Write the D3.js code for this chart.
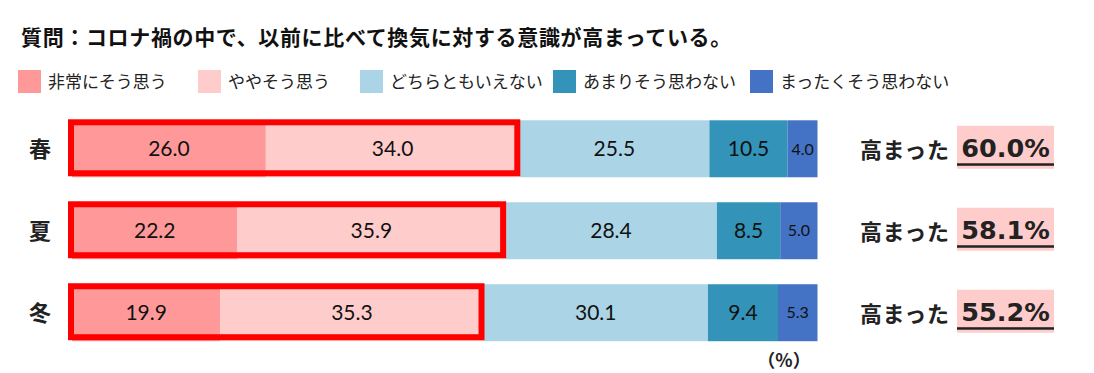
<!DOCTYPE html>
<html lang="ja">
<head>
    <meta charset="UTF-8">
    <title>換気に対する意識</title>
    <script src="https://cdnjs.cloudflare.com/ajax/libs/d3/7.8.5/d3.min.js"></script>
    <style>
        body {
            margin: 0;
            padding: 0;
            background: #fff;
        }
        svg {
            display: block;
            font-family: "Noto Sans CJK JP", sans-serif;
        }
    </style>
</head>
<body>
    <svg id="chart" width="1094" height="373"></svg>

    <script>
        // data
        const title = "質問：コロナ禍の中で、以前に比べて換気に対する意識が高まっている。";
        const seasons = ["春", "夏", "冬"];
        const answers = ["非常にそう思う", "ややそう思う", "どちらともいえない", "あまりそう思わない", "まったくそう思わない"];
        const colors = ["#ff9999", "#ffcccc", "#abd5e6", "#3393b8", "#4472c4"];
        const values = {
            "春": [26.0, 34.0, 25.5, 10.5, 4.0],
            "夏": [22.2, 35.9, 28.4, 8.5, 5.0],
            "冬": [19.9, 35.3, 30.1, 9.4, 5.3]
        };
        const highTotals = [60.0, 58.1, 55.2];
        const highLabel = "高まった";
        const unitLabel = "（%）";
        const legendX = [18, 198, 360, 553, 750];

        const svg = d3.select("#chart");

        const x = d3.scaleLinear().domain([0, 100]).range([72, 817.5]);
        const y = d3.scaleBand().domain(seasons).range([108, 353.5])
            .paddingInner(0.305).paddingOuter(0.15);

        // title
        svg.append("text")
            .attr("x", 21).attr("y", 45)
            .attr("font-size", 21).attr("font-weight", "bold")
            .attr("letter-spacing", 0.65)
            .attr("fill", "#111")
            .text(title);

        // legend
        const legend = svg.append("g").selectAll("g")
            .data(answers)
            .join("g")
            .attr("transform", (d, i) => `translate(${legendX[i]},70)`);
        legend.append("rect")
            .attr("width", 23).attr("height", 23)
            .attr("fill", (d, i) => colors[i]);
        legend.append("text")
            .attr("x", 30).attr("y", 18)
            .attr("font-size", 17).attr("fill", "#222")
            .text(d => d);

        // stacked rows
        const rows = svg.append("g").selectAll("g")
            .data(seasons)
            .join("g")
            .attr("transform", d => `translate(0,${y(d)})`);

        rows.append("text")
            .attr("x", 40).attr("y", y.bandwidth() / 2)
            .attr("dy", "0.36em")
            .attr("text-anchor", "middle")
            .attr("font-size", 22).attr("font-weight", "bold")
            .attr("fill", "#222")
            .text(d => d);

        const segs = rows.selectAll("g.seg")
            .data(d => {
                let acc = 0;
                return values[d].map((v, i) => {
                    const s = { v, i, x0: acc, x1: acc + v };
                    acc += v;
                    return s;
                });
            })
            .join("g")
            .attr("class", "seg");

        segs.append("rect")
            .attr("x", d => x(d.x0))
            .attr("width", d => x(d.x1) - x(d.x0))
            .attr("height", y.bandwidth())
            .attr("fill", d => colors[d.i]);

        segs.append("text")
            .attr("x", d => (x(d.x0) + x(d.x1)) / 2)
            .attr("y", y.bandwidth() / 2)
            .attr("dy", "0.36em")
            .attr("text-anchor", "middle")
            .attr("font-family", "Lato, sans-serif")
            .attr("font-size", d => d.i === 4 ? 16 : 21)
            .attr("fill", "#111")
            .text(d => d.v.toFixed(1));

        // red frame around 非常に + やや
        rows.append("rect")
            .attr("x", x(0) - 1)
            .attr("y", 2)
            .attr("width", (d, i) => x(highTotals[i]) - x(0) - 1)
            .attr("height", y.bandwidth() - 6)
            .attr("fill", "none")
            .attr("stroke", "#ff0000")
            .attr("stroke-width", 6);

        // right side summary
        const summary = rows.append("g")
            .attr("transform", `translate(0,${y.bandwidth() / 2})`);
        summary.append("text")
            .attr("x", 860).attr("y", 9)
            .attr("font-size", 22).attr("font-weight", "bold")
            .attr("letter-spacing", 0.6)
            .attr("fill", "#222")
            .text(highLabel);
        summary.append("rect")
            .attr("x", 957).attr("y", -23)
            .attr("width", 97).attr("height", 43)
            .attr("fill", "#ffcccc");
        summary.append("text")
            .attr("x", 1005.5).attr("y", 8.5)
            .attr("text-anchor", "middle")
            .attr("font-family", "'DejaVu Sans', sans-serif")
            .attr("font-size", 25.5).attr("font-weight", "bold")
            .attr("fill", "#222")
            .text((d, i) => highTotals[i].toFixed(1) + "%");
        summary.append("rect")
            .attr("x", 957).attr("y", 14.5)
            .attr("width", 97).attr("height", 2.5)
            .attr("fill", "#222");

        // unit
        svg.append("text")
            .attr("x", 784).attr("y", 367)
            .attr("text-anchor", "middle")
            .attr("font-size", 18).attr("font-weight", "bold")
            .attr("fill", "#222")
            .text(unitLabel);
    </script>
</body>
</html>
